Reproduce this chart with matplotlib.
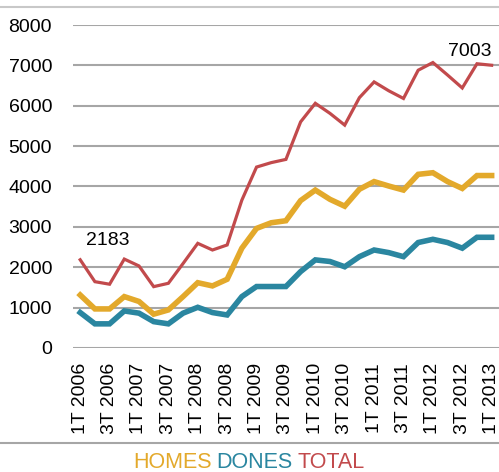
import matplotlib.pyplot as plt
from matplotlib.lines import Line2D

years = list(range(2006, 2014))
quarters = [f"{q}T {y}" for y in years for q in (1, 2, 3, 4)][:29]

homes = [1310, 965, 965, 1270, 1150, 835, 940, 1270, 1615, 1535, 1700, 2470,
         2960, 3100, 3150, 3650, 3910, 3680, 3510, 3930, 4120, 4010, 3910,
         4300, 4340, 4120, 3950, 4270, 4270]
dones = [875, 595, 595, 915, 860, 650, 595, 860, 1005, 875, 815, 1270,
         1520, 1520, 1520, 1890, 2180, 2140, 2010, 2260, 2425, 2360, 2260,
         2610, 2690, 2610, 2470, 2740, 2740]
total = [2183, 1640, 1577, 2200, 2030, 1517, 1600, 2090, 2590, 2425, 2550, 3660,
         4480, 4590, 4670, 5600, 6060, 5810, 5520, 6200, 6590, 6370, 6180,
         6880, 7070, 6760, 6440, 7040, 7003]

series_names = ["HOMES", "DONES", "TOTAL"]
colors = {"HOMES": "#E3A92B", "DONES": "#2A86A0", "TOTAL": "#C24A4C"}

plt.rcParams['font.family'] = ['Liberation Sans', 'DejaVu Sans']

fig = plt.figure(figsize=(4.99, 4.72), dpi=100)
ax = fig.add_axes([0.146, 0.263, 0.854, 0.684])

x = list(range(len(quarters)))
ax.plot(x, dones, color=colors["DONES"], linewidth=4.0, solid_joinstyle='miter', zorder=3)
ax.plot(x, homes, color=colors["HOMES"], linewidth=4.0, solid_joinstyle='miter', zorder=3)
ax.plot(x, total, color=colors["TOTAL"], linewidth=2.3, solid_joinstyle='miter', zorder=4)

ax.annotate(str(total[0]), xy=(0, total[0]), xytext=(20, 8), textcoords='offset points',
            ha='center', va='bottom', fontsize=14)
ax.annotate(str(total[-1]), xy=(len(total) - 1, total[-1]), xytext=(-16, 4),
            textcoords='offset points', ha='center', va='bottom', fontsize=14)

ax.set_xlim(-0.5, len(quarters) - 0.5)
ax.set_ylim(0, 8000)
ax.set_yticks(range(0, 8001, 1000))
ax.set_xticks(x[::2])
ax.set_xticklabels(quarters[::2], rotation=90, fontsize=14)
ax.tick_params(axis='y', length=0, pad=15, labelsize=14)
ax.tick_params(axis='x', length=0, pad=11)
ax.yaxis.grid(True, color='#A6A6A6', linewidth=1.5)
ax.set_axisbelow(True)
for side in ax.spines.values():
    side.set_visible(False)

# frame lines of the original slide
fig.add_artist(Line2D([0, 1], [1 - 6.5 / 472, 1 - 6.5 / 472], color='#C8C8C8', linewidth=1.5))
fig.add_artist(Line2D([0, 1], [1 - 443 / 472, 1 - 443 / 472], color='#A6A6A6', linewidth=1.5))

# coloured legend words
fig.canvas.draw()
renderer = fig.canvas.get_renderer()
xpos = 133 / 499
for name in series_names:
    t = fig.text(xpos, 1 - 452 / 472, name, color=colors[name], fontsize=15.5,
                 va='top', ha='left')
    bb = t.get_window_extent(renderer)
    xpos = (bb.x1 + 5) / fig.bbox.width

fig.savefig("out.png", dpi=100)
